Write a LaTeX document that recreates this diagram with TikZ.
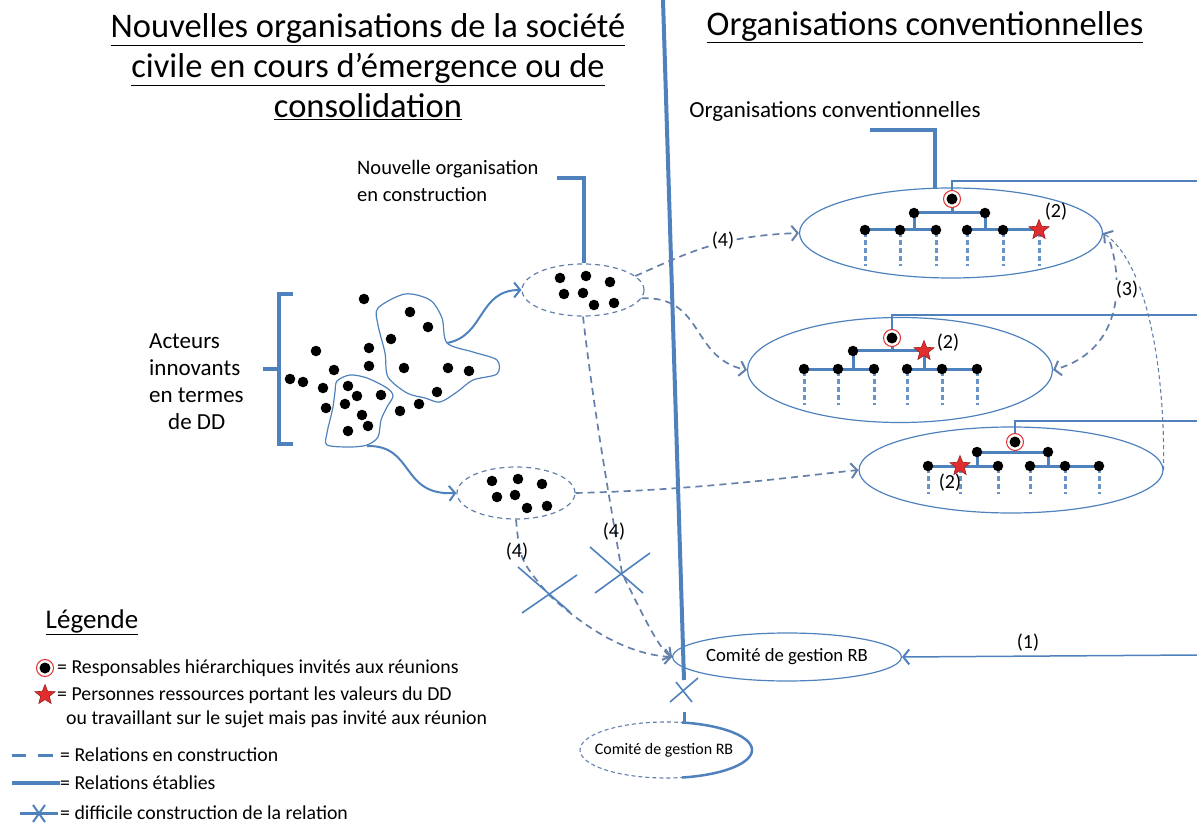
\documentclass[tikz,border=0pt]{standalone}
\usepackage{fontspec}
\setmainfont{Carlito}
\usetikzlibrary{shapes.geometric,arrows.meta}
\definecolor{lb}{RGB}{79,129,189}
\definecolor{db}{RGB}{100,128,170}
\definecolor{rr}{RGB}{225,45,45}
\tikzset{
  estab/.style={lb, line width=1.5pt},
  thickb/.style={lb, line width=3.5pt},
  enc/.style={db, line width=1.7pt, dash pattern=on 7pt off 5pt},
  encthin/.style={db, line width=1.1pt, dash pattern=on 4pt off 3pt},
  tip/.style={-{Straight Barb[length=6pt,width=15pt,line width=2pt]}},
  ell/.style={ellipse, draw=lb, line width=1.2pt, inner sep=0pt},
  dell/.style={ellipse, draw=db, line width=1.2pt, dash pattern=on 5pt off 4pt, inner sep=0pt},
  dot/.style={circle, fill=black, inner sep=0pt, minimum size=10.5pt},
  ring/.style={circle, draw=rr, line width=1pt, fill=white, inner sep=0pt, minimum size=17pt,
     path picture={\fill[black] (path picture bounding box.center) circle (5.5pt);}},
  rstar/.style={star, star points=5, star point ratio=2.3, fill=rr, draw=rr!70!black, line width=0.6pt, inner sep=0pt, minimum size=21pt},
  orgbar/.style={lb, line width=3pt},
  orgdash/.style={lb!85, line width=3pt, dash pattern=on 5pt off 3pt},
  ttl/.style={font=\fontsize{34.5}{40}\selectfont, align=center, inner sep=0pt},
  lbl/.style={font=\fontsize{20.5}{27.5}\selectfont, inner sep=0pt},
  leg/.style={font=\fontsize{19.8}{24}\selectfont, inner sep=0pt, anchor=west},
  num/.style={font=\fontsize{20}{24}\selectfont, inner sep=1pt},
  cross/.style={lb, line width=1.6pt},
}
\begin{document}
\begin{tikzpicture}[x=1pt,y=-1pt]
\useasboundingbox (0,0) rectangle (1197,826);

% titles
\node[ttl] (tl) at (368,67) {\underline{Nouvelles organisations de la société}\\\underline{civile en cours d’émergence ou de}\\\underline{consolidation}};
\node[ttl] (tr) at (925,27) {\underline{Organisations conventionnelles}};

% divider
\coordinate (vt) at (663,0);
\coordinate (vb) at (684,680);
\draw[lb, line width=4pt] (vt) -- (vb);

% labels with callouts
\node[lbl, anchor=west, align=left] (lnew) at (357,181) {Nouvelle organisation\\ en construction};
\node[lbl, font=\fontsize{23}{27}\selectfont] (lconv) at (835,111) {Organisations conventionnelles};
\node[lbl, font=\fontsize{23}{27}\selectfont, anchor=west, align=left] (lact) at (149,382) {Acteurs\\innovants\\en termes\\\hspace*{19pt}de DD};

% cluster ellipses
\node[dell, minimum width=122pt, minimum height=52pt] (c1) at (583,290) {};
\node[dell, minimum width=118pt, minimum height=52pt] (c2) at (516,493) {};
\foreach \p in {(560,278),(586,276),(610,282),(564,294),(583,293),(594,305),(614,303)} \fill \p circle (5.3pt);
\foreach \p in {(492,481),(518,479),(542,484),(497,497),(515,495),(527,508),(547,506)} \fill \p circle (5.3pt);

% callout brackets
\coordinate (k1) at (557,178);
\draw[thickb] (k1) -- (584,178) -- (c1.north -| 584,0);
\coordinate (k2) at (870,130);
\draw[thickb] (k2) -- (935,130) -- (935,189);

% bracket for actors
\coordinate (bk) at (263,369);
\draw[thickb] (293,294) -- (279,294) -- (279,444) -- (293,444);
\draw[thickb] (bk) -- (279,369);

% blobs
\draw[lb, line width=1.2pt] plot[smooth cycle, tension=0.5] coordinates {(378,308) (405,294) (430,300) (442,318) (447,343) (473,352) (497,360) (497,374) (473,380) (457,392) (440,402) (425,398) (407,393) (388,377) (385,353) (378,325)};
\draw[lb, line width=1.2pt] plot[smooth cycle, tension=0.5] coordinates {(337,381) (350,375) (367,378) (387,388) (393,396) (387,407) (381,420) (378,437) (367,445) (350,447) (327,445) (327,433) (330,420) (333,407) (335,392)};
\foreach \p in {(364,299),(410,312),(428,327),(391,339),(369,348),(316,351),(369,366),(334,370),(404,368),(448,368),(469,371),(290,379),(303,382),(323,388),(348,386),(357,396),(381,395),(437,392),(419,404),(400,411),(326,408),(345,404),(362,415),(368,426),(348,431)} \fill \p circle (5.3pt);

% blob arrows
\coordinate (b1) at (447,343);
\coordinate (b2) at (367,446);
\draw[lb, line width=2pt, tip] (b1) .. controls (485,336) and (478,290) .. (c1.west);
\draw[lb, line width=2pt, tip] (b2) .. controls (415,445) and (400,496) .. (c2.west);

% conventional organisations
\node[ell, minimum width=303pt, minimum height=90pt] (e1) at (951,233) {};
\node[ell, minimum width=305pt, minimum height=105pt] (e2) at (900,370) {};
\node[ell, minimum width=304pt, minimum height=86pt] (e3) at (1011,470) {};

% org chart 1
\draw[orgbar] (952,199) -- (952,213) (914,213) -- (985,213) (914,213) -- (914,230) (985,213) -- (985,230) (865,230) -- (936,230) (967,230) -- (1039,230);
\foreach \x in {865,900,936,967,1003,1039} \draw[orgdash] (\x,232) -- (\x,266);
\foreach \x in {865,900,936,967,1003} \node[dot] at (\x,230) {};
\node[dot] (n11) at (914,213) {};
\node[dot] (n12) at (985,213) {};
\node[rstar] (s1) at (1039,230) {};
\node[ring] (t1) at (952,199) {};
\node[num] (q1) at (1056,212) {(2)};

% org chart 2
\draw[orgbar] (892,338) -- (892,351) (853,351) -- (924,351) (853,351) -- (853,369) (924,351) -- (924,369) (804,369) -- (874,369) (907,369) -- (977,369);
\foreach \x in {804,838,874,907,942,977} \draw[orgdash] (\x,371) -- (\x,405);
\foreach \x in {804,838,874,907,942,977} \node[dot] at (\x,369) {};
\node[dot] (n21) at (853,351) {};
\node[rstar] (s2) at (924,351) {};
\node[ring] (t2) at (892,338) {};
\node[num] (q2) at (948,343) {(2)};

% org chart 3
\draw[orgbar] (1015,442) -- (1015,452) (977,452) -- (1048,452) (977,452) -- (977,466) (1048,452) -- (1048,466) (928,466) -- (998,466) (1030,466) -- (1099,466);
\foreach \x in {928,960,998,1030,1065,1099} \draw[orgdash] (\x,468) -- (\x,494);
\foreach \x in {928,998,1030,1065,1099} \node[dot] at (\x,466) {};
\node[dot] (n31) at (977,452) {};
\node[dot] (n32) at (1048,452) {};
\node[num] (q3) at (950,483) {(2)};
\node[rstar] (s3) at (960,466) {};
\node[ring] (t3) at (1015,442) {};

% lines to the right
\coordinate (r1) at (1197,181);
\coordinate (r2) at (1197,315);
\coordinate (r3) at (1197,421);
\coordinate (r4) at (1197,655);
\draw[estab] (t1.north) |- (r1);
\draw[estab] (t2.north) |- (r2);
\draw[estab] (t3.north) |- (r3);

% comites
\node[ell, minimum width=215pt, minimum height=48pt, font=\fontsize{18.7}{22}\selectfont] (com1) at (787,657) {Comité de gestion RB};
\draw[estab, tip] (r4) -- (com1.east);
\node[num] (q4) at (1028,643) {(1)};

\node[font=\fontsize{16}{19}\selectfont, inner sep=0pt] (com2) at (664,750) {Comité de gestion RB};
\begin{scope}
  \clip (560,700) rectangle (682,800);
  \draw[db, line width=1.1pt, dash pattern=on 4pt off 3pt] (666,750) ellipse [x radius=86, y radius=28];
\end{scope}
\begin{scope}
  \clip (682,700) rectangle (780,800);
  \draw[lb, line width=2.5pt] (666,750) ellipse [x radius=86, y radius=28];
\end{scope}
\coordinate (stub) at (684,712);
\draw[lb, line width=3pt] (stub) -- (684,723);
\coordinate (xc) at (684,690);
\draw[cross] ([shift={(-14,12)}]xc) -- ([shift={(14,-12)}]xc);
\draw[cross] ([shift={(-8,-8)}]xc) -- ([shift={(8,12)}]xc);

% dashed relations
\draw[enc, tip] (c1.15) .. controls (690,252) and (720,236) .. (e1.west);
\node[num, fill=white] (q5) at (723,241) {(4)};
\draw[enc, tip] (c1.-8) .. controls (705,296) and (690,358) .. (e2.west);
\draw[enc, tip] (c2.east) .. controls (700,490) and (800,476) .. (e3.west);

\coordinate (x1) at (548,594);
\coordinate (x2) at (622,573);
\draw[enc, tip] (c1.south) .. controls (595,420) and (610,500) .. (x2) .. controls (645,620) and (660,650) .. (com1.west);
\draw[enc, tip] (c2.south) .. controls (520,560) .. (x1) .. controls (600,642) and (640,655) .. (com1.west);
\draw[cross] ([shift={(-30,-27)}]x1) -- ([shift={(22,18)}]x1);
\draw[cross] ([shift={(-26,19)}]x1) -- ([shift={(29,-19)}]x1);
\draw[cross] ([shift={(-32,-26)}]x2) -- ([shift={(21,20)}]x2);
\draw[cross] ([shift={(-27,20)}]x2) -- ([shift={(28,-20)}]x2);
\node[num] (q6) at (517,552) {(4)};
\node[num] (q7) at (614,532) {(4)};

% (3)
\draw[encthin, tip] (e3.east) .. controls (1165,360) and (1145,262) .. (e1.east);
\draw[enc, tip] (1110,242) .. controls (1125,290) and (1118,352) .. (e2.east);
\node[num, fill=white] (q8) at (1127,290) {(3)};

% legend
\node[font=\fontsize{27}{30}\selectfont, inner sep=0pt] (lg) at (92,622) {\underline{Légende}};
\node[ring] (lg1) at (45,668) {};
\node[leg] (lt1) at (57,668) {= Responsables hiérarchiques invités aux réunions};
\node[rstar] (lg2) at (45,695) {};
\node[leg] (lt2) at (57,695) {= Personnes ressources portant les valeurs du DD};
\node[leg] (lt3) at (66,719) {ou travaillant sur le sujet mais pas invité aux réunion};
\draw[lb, line width=3pt] (12,755) -- (26,755) (38,755) -- (53,755);
\node[leg] (lt4) at (60,755) {= Relations en construction};
\draw[lb, line width=3.5pt] (12,783) -- (60,783);
\node[leg] (lt5) at (60,783) {= Relations établies};
\draw[lb, line width=3pt] (20,813) -- (58,813);
\draw[lb, line width=2pt] (33,805) -- (45,822) (45,805) -- (33,822);
\node[leg] (lt6) at (60,813) {= difficile construction de la relation};
\end{tikzpicture}
\end{document}
